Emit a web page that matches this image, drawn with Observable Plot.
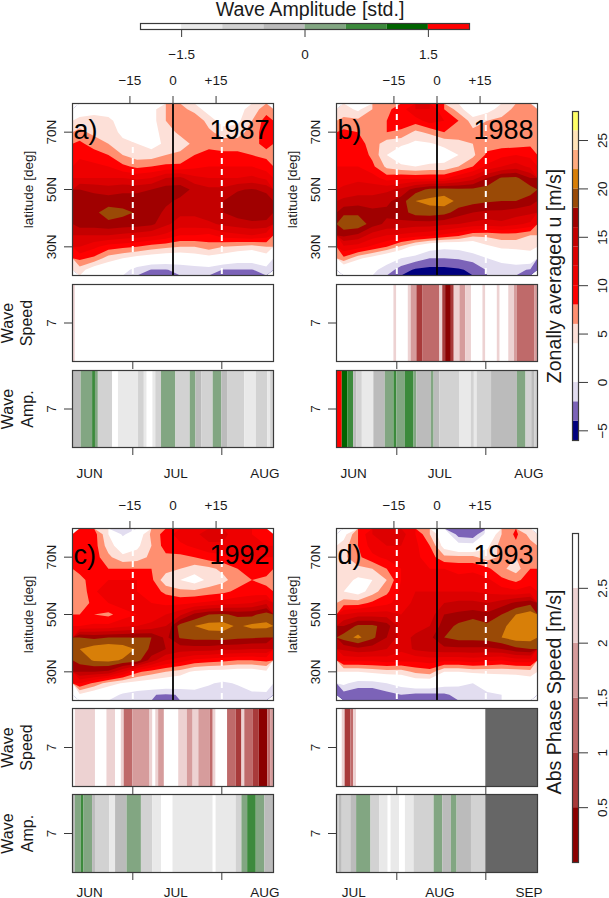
<!DOCTYPE html>
<html>
<head>
<meta charset="utf-8">
<script src="https://cdn.jsdelivr.net/npm/d3@7"></script>
<script src="https://cdn.jsdelivr.net/npm/@observablehq/plot@0.6"></script>
<style>
html,body{margin:0;padding:0;background:#fff}
#root{position:relative;width:609px;height:898px;overflow:hidden;background:#fff}
</style>
</head>
<body>
<div id="root"></div>
<script>
// Zonally averaged u [m/s]: rows from 78N down to 22N (4 deg), columns from day -32.5 to +32.5 (5 days)
const u1987 = [
[2,3,3,3,3,3,6,7,5,3,1,3,5,7],
[5,5,4.5,3,3,3,6,7.5,8,5,3,3.5,6,9],
[6.5,5.5,5,3.5,3,3,5,6.5,7.5,6.5,5,5,7,9],
[8.5,7,6,4.5,4,3,4.5,5,6.5,7,7,7,7.5,8.5],
[9.5,9,8,6,5,5,6,6.5,8,9,8.5,8.5,8,7.5],
[11,10.5,10,8.5,7.5,8,8.5,8.5,9.5,10,10,10,10,9],
[12,12,12,12,11.5,12,14,14.5,12.5,12,12,12,12.5,11.5],
[16,15.5,15,15.5,15.5,16,17,17,15.5,14.5,14.5,15.8,16.2,15.5],
[18,17,17,17,17,17,16.5,15.5,15,15.5,16,17,17.5,17],
[17.5,17.5,19,18.5,17.8,17.2,15.5,14.5,14.5,15.5,16,17,17.5,17],
[17,17,17.5,17.2,17,16.5,14.5,13,13,13.5,14.5,15,15.5,15.5],
[14,14,14,13.5,13,12.5,11.5,10,10,9.5,11,11.5,12,11],
[12,10.5,9,8.5,8,7,6.5,6,6,7,6,5.5,5,6],
[8.5,7.5,5,4,3,2.5,2,2,2.5,3,2.5,1.5,1.5,2.5],
[5,2.5,2,1,-1,-2.1,-2.1,-1.5,-1.2,-1,-2.1,-2.1,-2.1,-1]
];
const u1988 = [
[5,3.5,6,7.5,9,12,12,8,5,2,3,5,6.5,7],
[6.5,6.5,7,8,9.5,9,11,10,8,5,6,6.5,7,7],
[8.5,8,7,8,7.5,5.5,6.5,8,7,6.5,6.5,6.5,7,7.5],
[9,9,7,5,4.5,3.5,3.8,4.5,5.5,6,7,7,7,7.5],
[9.5,9.5,7.5,4,2,2,2.5,3,4,5.5,8.5,9.5,10,9.5],
[10,10,8.5,5.5,4.5,4,4.5,4.5,6,8,10.5,12,13,11.5],
[11,11.5,11,9,9.5,9.5,9.5,9.5,11.5,13,16,18.3,18.5,16],
[12.5,13,13,13.5,14.5,17,18.5,18.8,18.5,18.5,19,19.7,19.8,19],
[14.5,15,15,15.5,17,20,20.5,21,19.5,18.8,18.3,18,18,17],
[17.5,17.5,16.5,16.5,17,19,19.2,18.8,17,16,15.5,15.5,15,14.5],
[19.5,19.5,17,15.5,15.5,15,15,14.5,14,13.5,13,13.5,12.5,11.5],
[16.5,15.5,13,12,11.5,11,10.5,9.5,8.5,6.5,6.5,7,7,6],
[11.5,11,9.5,8,5.5,3,1,0.5,0.7,1.5,3.5,4.5,4.5,5],
[7.5,4.5,3,1,0,-1,-2,-2,-1.8,-1.2,0,1,2,2],
[1,0.5,0.5,-0.8,-3,-4.3,-4.6,-4.6,-4.3,-3.5,-1.8,-1.5,-1.5,-2.2]
];
const u1992 = [
[9,9,4,-0.5,2,6.5,9,11,11.5,13,13,10,10,9],
[9.5,9,5,2.5,3.5,6,9,9.5,10.5,11.5,11.5,10,11,10],
[9.5,9,6.5,4.5,5,6.5,7.5,7.5,8,9,9.5,10,11,10],
[9,9,8,8,8,8,7,6,5,5.5,6.5,8,9,9],
[7,9.5,10,10,10,8.5,4.5,4,3,4.5,5.5,7,8,7.5],
[6.5,9.5,12,12,10,9,7.5,6.5,6.5,7,7.5,8.5,9,8.5],
[7,8.5,10,11,10.5,10,9.5,9.5,10,10.5,11,11.5,12,13.5],
[8,8,7.5,9,10,11,12,13.5,16.5,18,18.3,17.5,17.5,19],
[10,10.5,10.5,11.5,12,12.5,14,19,20,20.8,20.8,19.7,20.5,20.5],
[18,17.5,18,18,18,18,15.5,18.2,18.8,18.8,19,18.5,18.3,18],
[20,21,21.5,21,19.8,17.5,16,15,15,15,14.5,14.5,14,14],
[19,20.2,20.5,19.8,19,15,12,11,9.5,9,8.5,8,8,8.5],
[16,16,15.5,12,8.5,7,6,5,3.5,3,3,2.5,2.5,3.5],
[10,7.5,5,3.8,3,2.5,2,1.8,1.5,0.3,-0.5,0.3,1.2,1.5],
[3.5,2,1.5,-0.5,-1.5,-1.9,-2.2,-1.9,-1.2,-1.3,-1.6,-1.5,-0.5,-0.5]
];
const u1993 = [
[3,8,12,14,13,10,6,2,-3,-3.5,1,6,8.5,5],
[5,8,11,12,12,10.5,8,3,1,1,3.5,7,7.5,7],
[5.5,7.5,9.5,10.5,11,10.5,9,6.5,6.5,6.5,5,6.5,6,7.5],
[5,5.5,6,8,10,10.5,10,10,9.5,9.5,8.5,6.5,5,8],
[5,3.5,4,6,10,11.5,10.5,10.5,10.5,11,10.5,8.5,7.5,9],
[4,3,5,7.5,10.5,12,12,12,12,12,11.5,11,10.5,11],
[7,7,8.5,9.5,11,12.5,12.5,14,14.5,14.5,14,15,16.5,17.5],
[12,13,13,13,12,12.5,13,16,16.5,17,16.5,18,20,21],
[16,18.5,18.5,17,13,13,14,17,18.5,19.5,18.5,19.5,21,21.5],
[19,20.5,18.5,16,13,14.5,15.5,18,18.8,18.8,19,20,21,21],
[14.5,15.5,15,14,12.5,14.5,15,15.5,15.5,15.5,15.5,16,17.5,18],
[10.5,10.5,10.5,11,10.5,10.5,11,10.5,10.5,11,10.5,10,11,11],
[4,4,4.5,5,5,6.5,7,4,4,4.5,4.5,4.5,4.5,5],
[0.5,-1,-1,0,1,2,2,1,0.5,0,1.5,2,2.5,2.5],
[-3,-3.5,-3.5,-2.8,-2,-2.5,-2.5,-2.4,-1.3,-1,-0.5,0,0.5,1]
];
const uThresholds = [-6,-4,-2,0,2,4,6,8,10,12,14,16,18,20,22,24,26];
const uColors = ["#00007f","#7c63b8","#e2ddf0","#ffffff","#ffffff","#fde0d8","#ff8f70","#ff0000","#ee0000","#dd0000","#c40000","#a00000","#9a4a06","#d87f08","#ffab80","#ffe3b8","#ffff66"];

const speedBins = [0.5,1,1.5,2,2.5];
const speedColors = ["#8b0000","#a83a3a","#bf6a6a","#d69c9c","#edd2d2","#ffffff"];
const ampBins = [-1.5,-1,-0.5,0,0.5,1,1.5];
const ampColors = ["#ffffff","#e9e9e9","#d2d2d2","#bbbbbb","#82a682","#3c8a3c","#006400","#ff0000"];

// Strips: day edges and one value per run
const speed1987Edges = [-35,-34,35];
const speed1987Values = [2.25,2.75];
const amp1987Edges = [-35,-32,-28,-27,-26,-21,-19,-12,-10,-9,-7,-6,-4,1,6,8,10,14,17,19,25,29,33,34,35];
const amp1987Values = [-0.25,0.25,0.75,0.25,-0.75,-1.75,-1.25,-0.75,-1.25,-1.75,-1.25,-0.75,0.25,-0.75,0.25,-0.25,-0.75,0.25,-0.25,-0.75,-1.25,-0.75,-1.25,-0.75];
const speed1988Edges = [-35,-15,-14,-10,-9,-7,-5,1,2,3,5,6,8,10,12,16,17,21,22,25,27,28,34,35];
const speed1988Values = [2.75,2.25,2.75,2.25,1.75,0.75,1.25,2.25,0.75,0.25,0.75,2.25,1.75,2.25,2.75,2.25,2.75,2.25,2.75,2.25,1.75,1.25,1.75];
const amp1988Edges = [-35,-33,-31,-29,-28,-26,-22,-18,-15,-14,-11,-8,-7,-2,-1,1,8,12,13,14,19,28,31,33,34,35];
const amp1988Values = [1.75,1.25,0.75,-0.25,-0.75,-1.25,-0.25,0.25,0.75,0.25,0.75,0.25,-0.25,0.25,-0.25,-0.75,-1.25,-0.75,-1.25,-0.75,-0.25,0.25,-0.75,-0.25,-0.75];
const speed1992Edges = [-35,-34,-27,-23,-20,-18,-17,-14,-8,-7,-6,-5,-3,2,5,7,9,13,14,15,19,22,24,25,28,30,33,34,35];
const speed1992Values = [2.75,2.25,2.75,2.25,2.75,2.25,1.25,1.75,2.25,2.75,2.25,1.75,2.75,2.25,1.75,2.25,1.75,1.25,2.25,2.75,1.25,0.75,2.25,1.25,0.75,0.25,1.25,1.75];
const amp1992Edges = [-35,-34,-32,-31,-28,-27,-22,-20,-16,-11,-7,-4,0,14,15,22,24,26,29,32,35];
const amp1992Values = [-0.25,0.25,0.75,0.25,-0.25,-0.75,-1.25,-0.25,0.25,-0.75,-1.25,-1.75,-1.25,-1.75,-1.25,-0.75,0.25,0.75,0.25,-0.25];
const speed1993Edges = [-35,-33,-32,-30,-29,-28,17];
const speed1993Values = [2.75,2.25,0.75,1.25,2.25,2.75];
const amp1993Edges = [-35,-34,-33,-30,-28,-23,-20,-17,-16,-13,-11,-8,-1,2,5,7,12,17];
const amp1993Values = [-0.75,-0.25,-0.75,-0.25,0.25,-0.75,-1.25,-1.75,-1.25,-1.75,-1.25,-0.75,0.25,-0.25,0.25,-0.25,-0.75];
const noData1993 = [{x1:17,x2:35}];

const monthStarts = [-14,17];
const eventTicks = [-15,0,15];
const months1 = ["JUN","JUL","AUG"];
const months2 = ["JUL","AUG","SEP"];
const monthCenters = [-29,1,32];
const latTicks = [30,50,70];

const FONT = "Liberation Sans, Arial, sans-serif";
const INK = "#3a3a3a";
const TXT = "#1a1a1a";
const root = document.getElementById("root");
const styleBase = {position:"absolute",overflow:"visible",background:"transparent",fontFamily:FONT,fontSize:"13.5px",color:TXT};

// box = frame position on the page; pad = room around the frame inside this SVG
function place(opts, box, pad){
  const [l,t,w,h] = box, [mt,mr,mb,ml] = pad;
  const svg = Plot.plot({style:styleBase, width:w+ml+mr, height:h+mt+mb, marginTop:mt, marginRight:mr, marginBottom:mb, marginLeft:ml, ...opts});
  svg.style.left = (l-ml)+"px"; svg.style.top = (t-mt)+"px";
  root.appendChild(svg);
}
const threshold = (domain, range) => ({type:"threshold", domain, range});
const runs = (edges, values) => values.map((v,i)=>({x1:edges[i],x2:edges[i+1],v}));
const bins = (edges) => edges.slice(0,-1).map((e,i)=>({lo:e,hi:edges[i+1],v:(e+edges[i+1])/2}));
const eventFmt = d => d===0 ? "0" : d<0 ? "\u2212"+(-d) : "+"+d;

function contourPanel(rows, left, top, letter, year){
  const flat = rows.slice().reverse().flat();
  place({
    x:{domain:[-35,35]}, y:{domain:[20,80]},
    color:threshold(uThresholds.slice(1), uColors),
    marks:[
      Plot.contour(flat,{width:rows[0].length,height:rows.length,x1:-35,x2:35,y1:20,y2:80,fill:Plot.identity,thresholds:uThresholds}),
      Plot.ruleX(monthStarts,{stroke:"#fff",strokeWidth:2,strokeDasharray:"6,5"}),
      Plot.ruleX([0],{stroke:"#000",strokeWidth:1.8}),
      Plot.frame({stroke:INK,strokeWidth:1.2}),
      Plot.axisX({anchor:"top",ticks:eventTicks,tickFormat:eventFmt,tickSize:8,tickPadding:11,label:null,stroke:INK}),
      Plot.axisY({anchor:"left",ticks:latTicks,tickFormat:d=>d+"N",tickSize:8,tickRotate:-90,tickPadding:9,label:null,stroke:INK}),
      Plot.text([letter],{frameAnchor:"top-left",dx:1,dy:27,fontSize:27,textAnchor:"start",lineAnchor:"middle",fill:"#000"}),
      Plot.text([year],{frameAnchor:"top-right",dx:-4,dy:27,fontSize:27,textAnchor:"end",lineAnchor:"middle",fill:"#000"}),
      Plot.text(["latitude [deg]"],{frameAnchor:"left",dx:-44,rotate:-90,textAnchor:"middle"})
    ]
  }, [left,top,201,172], [35,2,2,60]);
}
function strip(edges, values, domain, range, left, top, height, opts={}){
  const marks = [
    Plot.rect(runs(edges,values),{x1:"x1",x2:"x2",fill:"v"})
  ];
  if (opts.noData) marks.push(Plot.rect(opts.noData,{x1:"x1",x2:"x2",fill:"#666666"}));
  marks.push(
    Plot.frame({stroke:INK,strokeWidth:1.2}),
    Plot.axisX({anchor:"bottom",ticks:monthStarts,tickSize:8,tickFormat:()=>"",label:null,stroke:INK}),
    Plot.axisY({anchor:"left",ticks:[7],tickFormat:d=>String(d),tickSize:8,tickRotate:-90,tickPadding:9,label:null,stroke:INK})
  );
  if (opts.months) marks.push(
    Plot.text(opts.months,{x:(d,i)=>monthCenters[i],frameAnchor:"bottom",dy:opts.monthDy,lineAnchor:"middle"})
  );
  if (opts.labels) {
    marks.push(Plot.text([opts.labels[0]],{frameAnchor:"left",dx:-65,rotate:-90,fontSize:16,textAnchor:"middle"}));
    marks.push(Plot.text([opts.labels[1]],{frameAnchor:"left",dx:opts.labels[1]==="Amp."?-45:-46,rotate:-90,fontSize:16,textAnchor:"middle"}));
  }
  place({x:{domain:[-35,35]},y:{domain:[6.5,7.5]},color:threshold(domain,range),marks},
    [left,top,201,height], [2,12,opts.months?opts.monthDy+7:9,72]);
}

function yearBlock(u, sE, sV, aE, aV, left, top, sTop, aTop, h, letter, year, months, monthDy, labelled, noData){
  contourPanel(u,left,top,letter,year);
  strip(sE,sV,speedBins,speedColors,left,sTop,h,{labels:labelled?["Wave","Speed"]:null,noData});
  strip(aE,aV,ampBins,ampColors,left,aTop,h,{labels:labelled?["Wave","Amp."]:null,months,monthDy,noData});
}
yearBlock(u1987,speed1987Edges,speed1987Values,amp1987Edges,amp1987Values,72,103,284,370,77,"a)","1987",months1,26,true);
yearBlock(u1988,speed1988Edges,speed1988Values,amp1988Edges,amp1988Values,336,103,284,370,77,"b)","1988",months1,26,false);
yearBlock(u1992,speed1992Edges,speed1992Values,amp1992Edges,amp1992Values,72,528,708,794,78,"c)","1992",months1,20,true);
yearBlock(u1993,speed1993Edges,speed1993Values,amp1993Edges,amp1993Values,336,528,708,794,78,"d)","1993",months2,20,false,noData1993);

// Top colour bar
place({
  x:{domain:[-2,2]}, color:threshold(ampBins,ampColors),
  marks:[
    Plot.rect(bins([-2,-1.5,-1,-0.5,0,0.5,1,1.5,2]),{x1:"lo",x2:"hi",fill:"v"}),
    Plot.frame({stroke:INK,strokeWidth:1.2}),
    Plot.axisX({anchor:"bottom",ticks:[-1.5,0,1.5],tickFormat:d=>d===0?"0":d<0?"\u22121.5":"1.5",tickSize:8,tickPadding:12,label:null,stroke:INK}),
    Plot.text(["Wave Amplitude [std.]"],{frameAnchor:"top",dx:5,dy:-14,fontSize:19.6,lineAnchor:"middle"})
  ]
},[140,23,329,6],[23,10,36,10]);

// Zonal wind colour bar
place({
  y:{domain:[-6,28]}, color:threshold(uThresholds.slice(1),uColors),
  marks:[
    Plot.rect(bins([...uThresholds,28]),{y1:"lo",y2:"hi",fill:"v"}),
    Plot.frame({stroke:INK,strokeWidth:1.2}),
    Plot.axisY({anchor:"right",ticks:[-5,0,5,10,15,20,25],tickFormat:d=>d<0?"\u2212"+(-d):String(d),tickSize:9,tickRotate:-90,tickPadding:19.5,label:null,stroke:INK}),
    Plot.text(["Zonally averaged u [m/s]"],{frameAnchor:"left",dx:-18,rotate:-90,fontSize:19.6,textAnchor:"middle"})
  ]
},[572,111,6,329],[8,31,8,32]);

// Phase speed colour bar
place({
  y:{domain:[0,3]}, color:threshold(speedBins,speedColors),
  marks:[
    Plot.rect(bins([0,0.5,1,1.5,2,2.5,3]),{y1:"lo",y2:"hi",fill:"v"}),
    Plot.frame({stroke:INK,strokeWidth:1.2}),
    Plot.axisY({anchor:"right",ticks:[0.5,1,1.5,2,2.5],tickFormat:d=>String(d),tickSize:9,tickRotate:-90,tickPadding:19.5,label:null,stroke:INK}),
    Plot.text(["Abs Phase Speed [m/s]"],{frameAnchor:"left",dx:-18,dy:-6,rotate:-90,fontSize:19.6,textAnchor:"middle"})
  ]
},[572,533,6,329],[8,31,8,32]);
</script>
</body>
</html>
